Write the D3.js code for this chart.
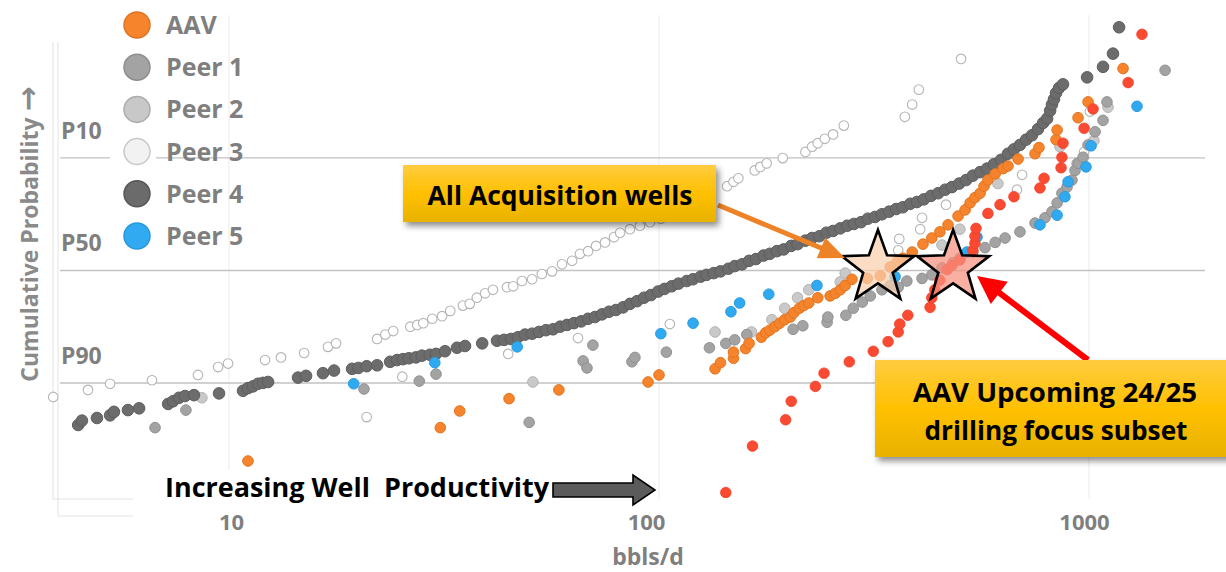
<!DOCTYPE html>
<html><head><meta charset="utf-8">
<script src="https://cdn.jsdelivr.net/npm/d3@7"></script>
<style>
html,body{margin:0;padding:0;background:#fff;}
svg{display:block;font-family:"Open Sans","Noto Sans",sans-serif;}
</style></head><body>
<svg id="chart" width="1226" height="572"></svg>
<script>
// ---------------- DATA (x = bbls/d, z = normal score of cumulative probability) ----------------
const seriesNames = ["AAV","Peer 1","Peer 2","Peer 3","Peer 4","Peer 5"];
const xTicks = [10,100,1000];
const pLabels = ["P10","P50","P90"];
const pValues = [10,50,90];

const aav = [[11.07,-2.17],[31.0,-1.79],[34.4,-1.60],[44.8,-1.46],[58.5,-1.36],[94.3,-1.27],[100,-1.19],[135,-1.12],[139,-1.05],[149,-1.00],[149,-0.93],[159,-0.89],[162,-0.83],[173,-0.76],[177,-0.71],[181,-0.68],[186,-0.64],[191,-0.60],[196,-0.56],[202,-0.53],[206,-0.48],[212,-0.43],[217,-0.40],[223,-0.37],[234,-0.31],[250,-0.29],[257,-0.26],[264,-0.22],[271,-0.17],[281,-0.10],[305,-0.09],[327,-0.06],[345,0.04],[358,0.10],[369,0.14],[388,0.21],[411,0.30],[431,0.37],[450,0.44],[470,0.52],[496,0.62],[515,0.69],[529,0.77],[543,0.83],[558,0.88],[570,0.96],[582,1.03],[605,1.10],[631,1.16],[648,1.19],[684,1.27],[749,1.33],[765,1.40],[838,1.49],[843,1.60],[943,1.74],[995,1.92],[1200,2.30]];

const peer1 = [[6.73,-1.79],[7.94,-1.59],[20.6,-1.35],[27.7,-1.26],[30.3,-1.18],[49.9,-1.73],[66.6,-1.03],[68.0,-1.11],[70.2,-0.85],[86.5,-1.04],[87.9,-0.99],[104,-0.93],[131,-0.88],[143,-0.83],[150,-0.79],[160,-0.73],[205,-0.67],[216,-0.63],[246,-0.59],[247,-0.53],[272,-0.51],[283,-0.43],[297,-0.36],[310,-0.29],[330,-0.22],[345,-0.17],[360,-0.19],[377,-0.12],[409,-0.09],[431,-0.05],[455,0.03],[483,0.09],[501,0.14],[537,0.21],[573,0.26],[605,0.32],[638,0.37],[691,0.44],[749,0.54],[790,0.60],[820,0.67],[843,0.77],[865,0.88],[889,0.95],[913,1.03],[928,1.14],[943,1.22],[969,1.29],[995,1.43],[1033,1.58],[1078,1.71],[1101,1.92],[1503,2.28]];

const peer2 = [[8.65,-1.45],[50.9,-1.27],[135,-0.70],[164,-0.70],[183,-0.56],[196,-0.43],[210,-0.31],[223,-0.22],[264,-0.13],[271,-0.03],[455,0.29],[501,0.47],[614,0.99],[631,1.18],[856,1.41],[938,1.22],[1027,1.48],[1107,1.86]];

const peer3 = [[3.90,-1.44],[4.70,-1.36],[5.29,-1.29],[6.62,-1.25],[8.47,-1.19],[9.43,-1.10],[9.95,-1.06],[12.13,-1.02],[13.21,-0.99],[14.95,-0.94],[16.99,-0.87],[17.74,-0.83],[20.9,-1.67],[22.1,-0.78],[23.1,-0.73],[24.1,-0.69],[25.3,-1.21],[26.4,-0.64],[27.4,-0.62],[28.3,-0.60],[29.7,-0.55],[31.3,-0.52],[32.7,-0.46],[35.0,-0.40],[36.3,-0.38],[37.7,-0.31],[39.4,-0.26],[41.1,-0.22],[44.6,-0.95],[44.3,-0.19],[45.8,-0.18],[48.0,-0.12],[50.7,-0.10],[53.4,-0.04],[56.4,-0.01],[59.5,0.07],[62.8,0.11],[64.8,-0.77],[65.5,0.19],[68.4,0.22],[71.4,0.28],[74.9,0.32],[78.6,0.38],[81.2,0.43],[85.6,0.47],[90.3,0.51],[95.3,0.55],[101,0.59],[106,-0.61],[112,0.64],[125,0.80],[144,0.96],[149,1.01],[153,1.05],[167,1.14],[172,1.18],[178,1.22],[194,1.28],[219,1.35],[227,1.41],[234,1.45],[243,1.50],[254,1.55],[269,1.65],[373,1.75],[388,1.89],[402,2.06],[504,2.41],[360,0.23],[362,0.36],[405,0.47],[409,0.60],[465,0.75],[680,0.92],[699,1.09],[974,1.35],[1005,1.81]];

const peer4 = [[4.46,-1.76],[4.55,-1.71],[4.93,-1.68],[5.29,-1.65],[5.40,-1.61],[5.82,-1.59],[6.18,-1.57],[7.22,-1.52],[7.41,-1.49],[7.65,-1.45],[7.90,-1.43],[8.29,-1.42],[9.48,-1.40],[10.78,-1.37],[11.07,-1.34],[11.37,-1.32],[11.68,-1.29],[12.0,-1.28],[12.33,-1.27],[14.47,-1.22],[15.11,-1.20],[16.54,-1.17],[17.55,-1.14],[19.33,-1.12],[20.0,-1.11],[20.9,-1.09],[22.1,-1.08],[23.7,-1.04],[24.6,-1.02],[25.4,-1.01],[26.2,-1.00],[27.2,-0.99],[28.1,-0.97],[29.3,-0.96],[30.3,-0.95],[31.8,-0.92],[33.9,-0.88],[35.4,-0.86],[38.8,-0.83],[42.0,-0.80],[43.6,-0.79],[45.3,-0.78],[47.0,-0.76],[48.8,-0.73],[50.7,-0.72],[52.6,-0.70],[54.6,-0.68],[56.7,-0.67],[58.9,-0.64],[61.1,-0.62],[63.4,-0.60],[65.9,-0.58],[68.4,-0.55],[71.0,-0.53],[73.7,-0.50],[76.5,-0.47],[79.4,-0.45],[82.5,-0.42],[85.6,-0.38],[88.9,-0.35],[92.3,-0.31],[95.8,-0.28],[99.5,-0.24],[103,-0.21],[107,-0.18],[111,-0.15],[116,-0.12],[120,-0.10],[125,-0.07],[129,-0.05],[134,-0.03],[139,-0.01],[145,0.02],[150,0.05],[156,0.07],[162,0.11],[168,0.13],[175,0.17],[181,0.19],[188,0.22],[195,0.24],[203,0.28],[210,0.30],[219,0.34],[227,0.37],[236,0.39],[245,0.43],[254,0.45],[264,0.48],[274,0.51],[284,0.53],[295,0.55],[306,0.59],[318,0.61],[330,0.64],[343,0.67],[356,0.70],[369,0.72],[384,0.76],[398,0.78],[413,0.81],[429,0.85],[446,0.88],[463,0.92],[480,0.95],[499,0.99],[518,1.03],[537,1.08],[558,1.12],[579,1.16],[601,1.21],[624,1.26],[648,1.33],[669,1.38],[691,1.43],[714,1.49],[737,1.54],[761,1.61],[782,1.68],[799,1.73],[812,1.82],[820,1.89],[829,1.95],[838,2.02],[852,2.08],[870,2.12],[990,2.20],[1078,2.32],[1137,2.47],[1175,2.77]];

const peer5 = [[19.5,-1.29],[30.1,-1.05],[46.8,-0.87],[101,-0.72],[120,-0.60],[147,-0.47],[154,-0.37],[180,-0.27],[233,-0.17],[354,-0.07],[520,0.21],[549,0.38],[769,0.52],[843,0.63],[879,0.84],[894,1.01],[984,1.18],[1011,1.42],[1293,1.87]];

// AAV upcoming 24/25 drilling focus subset
const subset = [[143,-2.53],[165,-2.00],[197,-1.70],[203,-1.49],[231,-1.32],[242,-1.17],[277,-1.04],[315,-0.92],[341,-0.81],[360,-0.70],[363,-0.61],[379,-0.51],[427,-0.42],[431,-0.31],[438,-0.22],[450,-0.11],[468,0.01],[480,0.06],[501,0.12],[537,0.23],[543,0.31],[543,0.39],[546,0.48],[582,0.65],[621,0.75],[669,0.84],[769,0.94],[786,1.05],[861,1.17],[865,1.29],[870,1.45],[974,1.62],[1022,1.84],[1233,2.14],[1328,2.69]];

// P50 stars: [x, z]
const starAll = [323, 0.03];
const starSubset = [483, 0.03];

// ---------------- helpers ----------------
function normInv(p){
  const a=[-3.969683028665376e+01,2.209460984245205e+02,-2.759285104469687e+02,1.383577518672690e+02,-3.066479806614716e+01,2.506628277459239e+00];
  const b=[-5.447609879822406e+01,1.615858368580409e+02,-1.556989798598866e+02,6.680131188771972e+01,-1.328068155288572e+01];
  const c=[-7.784894002430293e-03,-3.223964580411365e-01,-2.400758277161838e+00,-2.549732539343734e+00,4.374664141464968e+00,2.938163982698783e+00];
  const d=[7.784695709041462e-03,3.224671290700398e-01,2.445134137142996e+00,3.754408661907416e+00];
  const pl=0.02425, ph=1-pl; let q,r;
  if(p<pl){q=Math.sqrt(-2*Math.log(p));return (((((c[0]*q+c[1])*q+c[2])*q+c[3])*q+c[4])*q+c[5])/((((d[0]*q+d[1])*q+d[2])*q+d[3])*q+1);}
  if(p<=ph){q=p-0.5;r=q*q;return (((((a[0]*r+a[1])*r+a[2])*r+a[3])*r+a[4])*r+a[5])*q/(((((b[0]*r+b[1])*r+b[2])*r+b[3])*r+b[4])*r+1);}
  q=Math.sqrt(-2*Math.log(1-p));return -(((((c[0]*q+c[1])*q+c[2])*q+c[3])*q+c[4])*q+c[5])/((((d[0]*q+d[1])*q+d[2])*q+d[3])*q+1);
}
// P-value (exceedance %) -> normal score
const pz = p => normInv(1 - p/100);

// ---------------- SETUP ----------------
const svg = d3.select("#chart");
const defs = svg.append("defs");
const grad = defs.append("linearGradient").attr("id","boxGrad").attr("x1",0).attr("y1",0).attr("x2",0).attr("y2",1);
grad.append("stop").attr("offset","0%").attr("stop-color","#ffcc40");
grad.append("stop").attr("offset","50%").attr("stop-color","#ffc000");
grad.append("stop").attr("offset","100%").attr("stop-color","#e8b200");
const filt = defs.append("filter").attr("id","shadow").attr("x","-10%").attr("y","-20%").attr("width","130%").attr("height","160%");
filt.append("feDropShadow").attr("dx",3).attr("dy",4).attr("stdDeviation",3).attr("flood-color","#000").attr("flood-opacity",0.45);
defs.append("clipPath").attr("id","plotClip").append("rect").attr("x",45).attr("y",0).attr("width",1181).attr("height",498);

const x = d3.scaleLog().domain([10,1000]).range([229,1089]);
const y = d3.scaleLinear().domain([-2.58,2.853]).range([497,20]);

// faint frame lines
const frame = [[53,42,53,499],[58,42,58,516],[53,499,133,499],[58,516,133,516]];
svg.append("g").selectAll("line").data(frame).join("line")
  .attr("x1",d=>d[0]).attr("y1",d=>d[1]).attr("x2",d=>d[2]).attr("y2",d=>d[3])
  .attr("stroke","#e2e2e2").attr("stroke-width",1);

// vertical grid
svg.append("g").selectAll("line").data(xTicks).join("line")
  .attr("x1",d=>x(d)).attr("x2",d=>x(d)).attr("y1",15).attr("y2",499)
  .attr("stroke","#ebebeb").attr("stroke-width",1);

// horizontal P lines
svg.append("g").selectAll("line").data(pValues).join("line")
  .attr("x1",60).attr("x2",1205)
  .attr("y1",d=>y(pz(d))).attr("y2",d=>y(pz(d)))
  .attr("stroke","#c2c2c2").attr("stroke-width",1.3);

// P labels
svg.append("g").selectAll("text").data(pLabels).join("text")
  .attr("x",61).attr("y",(d,i)=>y(pz(pValues[i]))-19)
  .attr("font-size",23).attr("font-weight",700).attr("fill","#7f7f7f")
  .text(d=>d);

// y title
const yt = svg.append("text").attr("transform","translate(38,234) rotate(-90)")
  .attr("text-anchor","middle").attr("font-size",23).attr("font-weight",700)
  .attr("fill","#8a8a8a");
yt.append("tspan").text("Cumulative Probability ");
yt.append("tspan").attr("font-family","'DejaVu Sans',sans-serif").attr("font-weight",700).attr("font-size",30).text("\u2192");

// x axis labels
const tickShift = [2,-13,-5];
const xAxis = d3.axisBottom(x).tickValues(xTicks).tickFormat(d3.format("d")).tickSize(0).tickPadding(15);
const ax = svg.append("g").attr("transform","translate(0,499)").call(xAxis);
ax.select(".domain").remove();
ax.selectAll("text").attr("font-size",22).attr("font-weight",700).attr("fill","#7f7f7f")
  .attr("font-family","'Open Sans','Noto Sans',sans-serif").attr("dx",(d,i)=>tickShift[i]);
svg.append("text").attr("x",648).attr("y",565).attr("text-anchor","middle")
  .attr("font-size",23).attr("font-weight",700).attr("fill","#7f7f7f").text("bbls/d");

// ---------------- POINTS ----------------
const plot = svg.append("g").attr("clip-path","url(#plotClip)");
function drawSeries(data, fill, stroke, r, sw){
  plot.append("g").selectAll("circle").data(data).join("circle")
    .attr("cx",d=>x(d[0])).attr("cy",d=>y(d[1])).attr("r",r)
    .attr("fill",fill).attr("stroke",stroke).attr("stroke-width",sw);
}
drawSeries(peer3, "#ffffff", "#b4b4b4", 4.8, 1.1);
drawSeries(peer2, "#c9c9c9", "#b3b3b3", 5.3, 1);
drawSeries(peer1, "#a3a3a3", "#919191", 5.3, 1);
drawSeries(peer4, "#6c6c6c", "#5e5e5e", 5.8, 1);
drawSeries(peer5, "#2fa9f0", "#2a9be0", 5.3, 1);
drawSeries(aav,   "#f5842c", "#e4741f", 5.3, 1);
drawSeries(subset,"#fb4a32", "#f0402a", 5.3, 0.8);

// ---------------- LEGEND ----------------
const legendFill = ["#f5842c","#a3a3a3","#c8c8c8","#f2f2f2","#6b6b6b","#31aaf2"];
const legendStroke = ["#df7424","#8e8e8e","#ababab","#c9c9c9","#575757","#2898dc"];
svg.append("rect").attr("x",110).attr("y",4).attr("width",46).attr("height",250).attr("fill","#fff");
const lg = svg.append("g").selectAll("g").data(seriesNames).join("g")
  .attr("transform",(d,i)=>`translate(137,${25+i*42.2})`);
lg.append("circle").attr("r",13).attr("fill",(d,i)=>legendFill[i]).attr("stroke",(d,i)=>legendStroke[i]).attr("stroke-width",1.5);
lg.append("text").attr("x",29).attr("y",9).attr("font-size",25).attr("font-weight",700)
  .attr("fill","#7f7f7f").text(d=>d);

// ---------------- STARS ----------------
function starPath(cx, cy, R, rr){
  const pts=[];
  for(let i=0;i<10;i++){
    const rad = i%2===0 ? R : rr;
    const ang = -Math.PI/2 + i*Math.PI/5;
    pts.push([cx+rad*Math.cos(ang), cy+rad*Math.sin(ang)]);
  }
  return "M"+pts.map(p=>p.join(",")).join("L")+"Z";
}
svg.append("path").attr("d",starPath(x(starAll[0]),y(starAll[1]),38,15.5))
  .attr("fill","#f9cfae").attr("fill-opacity",0.72).attr("stroke","#000").attr("stroke-width",2.6).attr("stroke-linejoin","miter");
svg.append("path").attr("d",starPath(x(starSubset[0]),y(starSubset[1]),38,15.5))
  .attr("fill","#f7917f").attr("fill-opacity",0.72).attr("stroke","#000").attr("stroke-width",2.6).attr("stroke-linejoin","miter");

// ---------------- ARROWS ----------------
function arrow(x0,y0,x1,y1,color,w,hl,hw){
  const dx=x1-x0, dy=y1-y0, L=Math.hypot(dx,dy), ux=dx/L, uy=dy/L;
  const bx=x1-ux*hl, by=y1-uy*hl;
  svg.append("line").attr("x1",x0).attr("y1",y0).attr("x2",bx+ux*2).attr("y2",by+uy*2)
    .attr("stroke",color).attr("stroke-width",w);
  svg.append("path").attr("d",`M${x1},${y1}L${bx-uy*hw},${by+ux*hw}L${bx+uy*hw},${by-ux*hw}Z`).attr("fill",color);
}
arrow(718,205,845,258,"#ee8226",5,26,11);
arrow(1088,360,977,276,"#ff0000",6,28,14);

// ---------------- ANNOTATION BOXES ----------------
svg.append("rect").attr("x",403).attr("y",165).attr("width",313).attr("height",57)
  .attr("fill","url(#boxGrad)").attr("filter","url(#shadow)");
svg.append("text").attr("x",560).attr("y",205).attr("text-anchor","middle")
  .attr("font-size",27).attr("font-weight",700).attr("fill","#000")
  .attr("textLength",265).attr("lengthAdjust","spacingAndGlyphs").text("All Acquisition wells");

svg.append("rect").attr("x",875).attr("y",360).attr("width",360).attr("height",97)
  .attr("fill","url(#boxGrad)").attr("filter","url(#shadow)");
svg.append("text").attr("x",1055).attr("y",402).attr("text-anchor","middle")
  .attr("font-size",27).attr("font-weight",700).attr("fill","#000")
  .attr("textLength",284).attr("lengthAdjust","spacingAndGlyphs").text("AAV Upcoming 24/25");
svg.append("text").attr("x",1056).attr("y",440).attr("text-anchor","middle")
  .attr("font-size",27).attr("font-weight",700).attr("fill","#000")
  .attr("textLength",263).attr("lengthAdjust","spacingAndGlyphs").text("drilling focus subset");

// Increasing well productivity label with block arrow
svg.append("rect").attr("x",134).attr("y",470).attr("width",420).attr("height",34).attr("fill","#fff");
svg.append("text").attr("x",165).attr("y",497).style("white-space","pre")
  .attr("font-size",27).attr("font-weight",700).attr("fill","#000")
  .attr("textLength",384).attr("lengthAdjust","spacingAndGlyphs").text("Increasing Well  Productivity");
svg.append("path").attr("d","M553,483L633,483L633,475L655,490L633,505L633,497L553,497Z")
  .attr("fill","#5b5b5b").attr("stroke","#000").attr("stroke-width",1.6).attr("stroke-linejoin","miter");
</script></body></html>
